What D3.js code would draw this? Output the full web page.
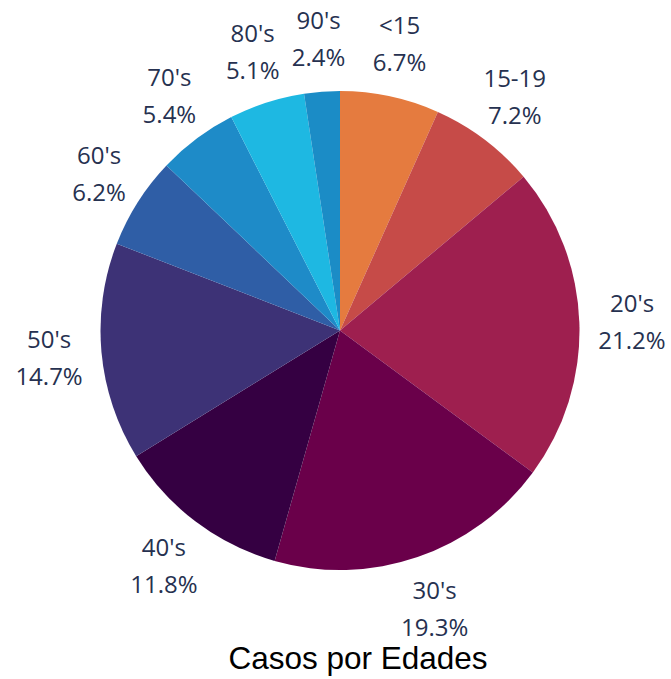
<!DOCTYPE html>
<html>
<head>
<meta charset="utf-8">
<script src="https://cdn.jsdelivr.net/npm/d3@7"></script>
<style>
  body { margin: 0; background: #fff; }
  svg { display: block; }
</style>
</head>
<body>
<div id="chart"></div>
<script>
// Age groups and share of cases (%)
const categories = ["<15", "15-19", "20's", "30's", "40's", "50's", "60's", "70's", "80's", "90's"];
const values = [6.7, 7.2, 21.2, 19.3, 11.8, 14.7, 6.2, 5.4, 5.1, 2.4];
const colors = ["#e57b3f", "#c64b48", "#9e1f4f", "#6a004a", "#350042", "#3d3276", "#2f5ea6", "#1e8bc8", "#1eb8e2", "#1b8cc6"];
const title = "Casos por Edades";

const width = 671;
const height = 679;
const cx = 340;
const cy = 330.5;
const radius = 239.5;
const labelGap = 19;
const lineHeight = 37;

const svg = d3
  .select("#chart")
  .append("svg")
  .attr("width", width)
  .attr("height", height);

const data = categories.map((name, i) => ({ name, value: values[i], color: colors[i] }));

const pie = d3
  .pie()
  .sort(null)
  .value((d) => d.value);

const arc = d3.arc().innerRadius(0).outerRadius(radius);

const g = svg.append("g").attr("transform", `translate(${cx}, ${cy})`);

const arcs = pie(data);

g.selectAll("path.slice")
  .data(arcs)
  .enter()
  .append("path")
  .attr("class", "slice")
  .attr("d", arc)
  .attr("fill", (d) => d.data.color);

// Outside labels: two lines, box nudged away from the pie edge
const labels = g
  .selectAll("text.label")
  .data(arcs)
  .enter()
  .append("text")
  .attr("class", "label")
  .attr("text-anchor", "middle")
  .style("font-family", "'Open Sans', sans-serif")
  .style("font-size", "24px")
  .style("font-weight", 500)
  .style("fill", "#263150");

labels.each(function (d) {
  const t = d3.select(this);
  t.append("tspan").attr("x", 0).attr("dy", 0).text(d.data.name);
  t.append("tspan").attr("x", 0).attr("dy", lineHeight).text(d.data.value.toFixed(1) + "%");
});

labels.attr("transform", function (d) {
  const a = (d.startAngle + d.endAngle) / 2;
  const s = Math.sin(a);
  const c = Math.cos(a);
  const px = s * (radius + labelGap);
  const py = -c * (radius + labelGap);
  const bb = this.getBBox();
  const halfW = bb.width / 2;
  const halfH = bb.height / 2;
  const boxCx = px + s * halfW;
  const boxCy = py - c * halfH;
  // shift so the box center lands on (boxCx, boxCy)
  const dy = boxCy - (bb.y + halfH);
  return `translate(${boxCx}, ${dy})`;
});

svg
  .append("text")
  .attr("x", 358)
  .attr("y", 669)
  .attr("text-anchor", "middle")
  .style("font-family", "'Liberation Sans', Arial, sans-serif")
  .style("font-size", "31.5px")
  .style("fill", "#000")
  .text(title);
</script>
</body>
</html>
